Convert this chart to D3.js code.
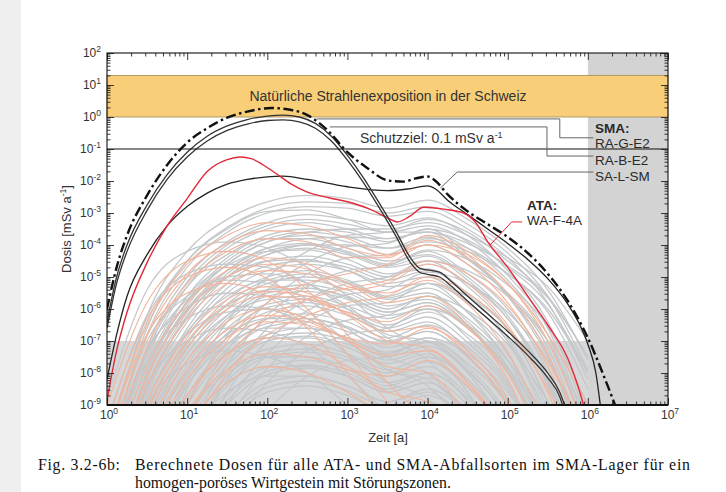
<!DOCTYPE html>
<html>
<head>
<meta charset="utf-8">
<script src="https://cdn.jsdelivr.net/npm/d3@7"></script>
<style>
  body { margin: 0; background: #fff; }
  svg { display: block; }
</style>
</head>
<body>
<svg id="chart" width="726" height="492"></svg>
<script>
// all doses as log10(mSv/a), time as log10(a)
const logGrid = [0, 0.5, 1, 1.5, 2, 2.5, 3, 3.5, 4, 4.5, 5, 5.5, 6];

const greyCurves = [
  [-10.5, -6.2, -4.2, -3.2, -2.65, -2.45, -2.55, -2.85, -2.6, -3.2, -4.1, -5.4, -7.6],
  [-10.8, -6.6, -4.5, -3.45, -2.85, -2.65, -2.7, -3.0, -2.8, -3.35, -4.25, -5.6, -7.9],
  [-11, -6.8, -4.7, -3.6, -3.0, -2.8, -2.85, -3.1, -2.95, -3.5, -4.4, -5.8, -8.2],
  [-11.5, -7.2, -5.0, -3.9, -3.3, -3.05, -3.2, -3.4, -3.15, -3.7, -4.8, -6.4, -9.5],
  [-11.7, -7.4, -5.15, -4.0, -3.4, -3.2, -3.35, -3.6, -3.4, -3.9, -4.95, -6.6, -9.8],
  [-12, -7.6, -5.3, -4.1, -3.5, -3.3, -3.5, -3.8, -3.6, -4.1, -5.1, -6.8, -10],
  [-12, -7.9, -5.6, -4.4, -3.7, -3.5, -3.6, -3.9, -3.5, -4.3, -5.6, -7.4, -11],
  [-12.2, -8.0, -5.75, -4.5, -3.8, -3.6, -3.75, -4.1, -3.75, -4.45, -5.55, -7.2, -10.5],
  [-12.5, -8.2, -5.9, -4.6, -3.9, -3.7, -3.9, -4.3, -4.0, -4.6, -5.5, -7.0, -10],
  [-12.5, -8.4, -6.1, -4.8, -4.1, -3.95, -4.2, -4.6, -4.2, -4.9, -6.0, -8.0, -12],
  [-12.8, -8.55, -6.25, -4.9, -4.2, -4.0, -4.25, -4.65, -4.35, -5.1, -6.3, -8.4, -12],
  [-13, -8.7, -6.4, -5.0, -4.3, -4.1, -4.3, -4.7, -4.5, -5.3, -6.6, -8.9, -12],
  [-13, -9.0, -6.6, -5.2, -4.5, -4.35, -4.6, -5.0, -4.6, -5.2, -6.3, -8.3, -12],
  [-13.2, -9.15, -6.75, -5.35, -4.65, -4.5, -4.7, -5.1, -4.8, -5.5, -6.65, -8.9, -12],
  [-13, -9.3, -6.9, -5.5, -4.8, -4.6, -4.8, -5.2, -5.0, -5.8, -7.0, -9.5, -12],
  [-13, -9.5, -7.1, -5.7, -5.0, -4.8, -5.1, -5.6, -5.2, -5.8, -7.0, -9.3, -12],
  [-13.3, -9.65, -7.25, -5.85, -5.1, -4.9, -5.15, -5.65, -5.35, -6.1, -7.4, -9.9, -12.5],
  [-13.5, -9.8, -7.4, -6.0, -5.2, -5.0, -5.2, -5.7, -5.5, -6.4, -7.8, -10.5, -13],
  [-13.5, -10, -7.6, -6.2, -5.4, -5.25, -5.5, -6.0, -5.6, -6.3, -7.6, -10, -13],
  [-13.8, -10.15, -7.75, -6.3, -5.5, -5.35, -5.6, -6.1, -5.8, -6.6, -7.95, -10.5, -13],
  [-14, -10.3, -7.9, -6.4, -5.6, -5.45, -5.7, -6.2, -6.0, -6.9, -8.3, -11, -13],
  [-14, -10.6, -8.1, -6.6, -5.85, -5.7, -6.0, -6.5, -6.1, -6.8, -8.0, -10.5, -13],
  [-14.2, -10.75, -8.25, -6.75, -5.95, -5.8, -6.1, -6.6, -6.25, -7.05, -8.4, -11, -13.5],
  [-14, -10.9, -8.4, -6.9, -6.1, -5.9, -6.2, -6.7, -6.4, -7.3, -8.8, -11.5, -14],
  [-14.5, -11.2, -8.7, -7.1, -6.3, -6.15, -6.4, -6.9, -6.5, -7.2, -8.5, -11, -14],
  [-14.5, -11.35, -8.85, -7.25, -6.45, -6.3, -6.55, -7.05, -6.7, -7.5, -8.9, -11.5, -14],
  [-14.5, -11.5, -9.0, -7.4, -6.55, -6.4, -6.7, -7.2, -6.9, -7.8, -9.3, -12, -14],
  [-15, -11.8, -9.3, -7.6, -6.8, -6.6, -6.9, -7.4, -7.0, -7.7, -9.0, -11.5, -14],
  [-15, -11.9, -9.45, -7.75, -6.9, -6.75, -7.0, -7.5, -7.15, -7.95, -9.4, -12, -14.5],
  [-15, -12, -9.6, -7.9, -7.0, -6.85, -7.1, -7.6, -7.3, -8.2, -9.8, -12.5, -15],
  [-15, -12.3, -9.9, -8.1, -7.25, -7.1, -7.4, -7.9, -7.5, -8.2, -9.6, -12, -15],
  [-15.3, -12.45, -10.05, -8.25, -7.4, -7.25, -7.5, -8.0, -7.65, -8.45, -9.95, -12.5, -15],
  [-15.5, -12.6, -10.2, -8.4, -7.5, -7.35, -7.6, -8.1, -7.8, -8.7, -10.3, -13, -15],
  [-16, -13, -10.5, -8.7, -7.8, -7.6, -7.9, -8.4, -8.0, -8.8, -10.2, -13, -15],
  [-15.8, -13.15, -10.65, -8.85, -7.95, -7.75, -8.0, -8.5, -8.15, -9.0, -10.5, -13, -15.5],
  [-16, -13.3, -10.8, -9.0, -8.05, -7.85, -8.1, -8.6, -8.3, -9.2, -10.8, -13.5, -16],
  [-16, -13.6, -11.1, -9.3, -8.3, -8.1, -8.4, -8.9, -8.5, -9.3, -11, -14, -16],
  [-16.2, -13.8, -11.25, -9.45, -8.45, -8.25, -8.55, -9.05, -8.7, -9.5, -11.2, -14, -16],
  [-16.5, -14, -11.4, -9.6, -8.6, -8.4, -8.7, -9.2, -8.9, -9.8, -11.5, -14, -16],
  [-8.8, -5.4, -4.2, -3.9, -4.1, -4.7, -5.6, -6.6, -7.3, -8.6, -10.8, -14, -16],
  [-9.6, -6.2, -4.9, -4.6, -4.7, -5.2, -6.0, -6.9, -7.6, -8.9, -11, -14, -16],
  [-10.5, -7.0, -5.6, -5.1, -5.2, -5.7, -6.6, -7.5, -8.0, -9.5, -12, -15, -17],
  [-10.8, -7.3, -5.95, -5.5, -5.6, -6.1, -7.0, -7.9, -8.4, -9.9, -12.5, -15, -17],
  [-11, -7.6, -6.3, -5.9, -6.0, -6.5, -7.4, -8.3, -8.8, -10.5, -13, -16, -18],
  [-11.5, -8.3, -7.0, -6.6, -6.7, -7.2, -8.1, -9.2, -9.8, -11.5, -14, -17, -19],
  [-12, -9, -7.7, -7.3, -7.5, -8.0, -9.0, -10, -11, -12.5, -15, -18, -20],
  [-16, -12, -8.5, -6.4, -5.0, -4.2, -3.7, -3.6, -3.2, -3.6, -4.5, -5.6, -7.5],
  [-16.5, -12.5, -9.0, -6.85, -5.4, -4.55, -4.05, -3.95, -3.5, -3.85, -4.7, -5.85, -8.0],
  [-17, -13, -9.5, -7.3, -5.8, -4.9, -4.4, -4.3, -3.8, -4.1, -4.9, -6.1, -8.5],
  [-17.5, -13.5, -10, -7.75, -6.2, -5.3, -4.8, -4.65, -4.15, -4.45, -5.25, -6.55, -9.0],
  [-18, -14, -10.5, -8.2, -6.6, -5.7, -5.2, -5.0, -4.5, -4.8, -5.6, -7.0, -9.5],
  [-18, -14.5, -11, -8.6, -7.0, -6.05, -5.55, -5.4, -4.85, -5.2, -6.1, -7.6, -10],
  [-18, -15, -11.5, -9.0, -7.4, -6.4, -5.9, -5.8, -5.2, -5.6, -6.6, -8.3, -11],
  [-18.5, -15.5, -12, -9.5, -7.85, -6.85, -6.35, -6.2, -5.6, -6.05, -7.1, -8.9, -11.5],
  [-19, -16, -12.5, -10, -8.3, -7.3, -6.8, -6.6, -6.0, -6.5, -7.6, -9.5, -12],
  [-20, -17, -13.5, -11, -9.2, -8.1, -7.6, -7.5, -6.9, -7.4, -8.6, -10.5, -13],
  [-12, -8, -5.8, -4.6, -3.9, -3.6, -3.5, -3.5, -3.3, -3.7, -4.4, -5.3, -7.0],
  [-12.2, -8.2, -6.0, -4.8, -4.1, -3.8, -3.75, -3.8, -3.6, -3.95, -4.65, -5.65, -7.5],
  [-12.5, -8.5, -6.2, -5.0, -4.3, -4.0, -4.0, -4.1, -3.9, -4.2, -4.9, -6.0, -8.0],
  [-10, -6.4, -4.5, -3.5, -2.95, -2.9, -3.2, -3.6, -3.6, -4.4, -5.6, -7.5, -10.5],
  [-11, -7.3, -5.3, -4.3, -3.8, -3.8, -4.1, -4.5, -4.3, -5.0, -6.2, -8.2, -11],
  [-11.5, -7.7, -5.6, -4.65, -4.2, -4.15, -4.45, -4.9, -4.75, -5.55, -6.9, -9.1, -12],
  [-12, -8.1, -6.0, -5.0, -4.5, -4.45, -4.8, -5.3, -5.2, -6.1, -7.6, -10, -13],
  [-12.5, -8.8, -6.7, -5.6, -5.1, -5.1, -5.4, -5.9, -5.7, -6.5, -7.9, -10.2, -13],
  [-12.8, -9.2, -7.05, -5.9, -5.4, -5.35, -5.65, -6.1, -5.8, -6.55, -7.85, -10, -13],
  [-13, -9.6, -7.4, -6.2, -5.7, -5.6, -5.9, -6.3, -5.9, -6.6, -7.8, -9.8, -13],
  [-14, -10.3, -8.0, -6.8, -6.3, -6.3, -6.6, -7.0, -6.7, -7.5, -9.0, -11.5, -14],
  [-14.2, -10.65, -8.35, -7.1, -6.6, -6.6, -6.9, -7.35, -7.05, -7.9, -9.45, -12, -14.5],
  [-14.5, -11, -8.7, -7.4, -6.9, -6.9, -7.2, -7.7, -7.4, -8.3, -9.9, -12.5, -15],
  [-15, -11.6, -9.3, -8.0, -7.5, -7.5, -7.8, -8.3, -8.0, -8.8, -10.4, -13, -15],
  [-15.5, -12.05, -9.65, -8.3, -7.8, -7.8, -8.1, -8.6, -8.3, -9.2, -10.9, -13.5, -15.5],
  [-16, -12.5, -10, -8.6, -8.1, -8.1, -8.4, -8.9, -8.6, -9.6, -11.5, -14, -16],
  [-11, -7.4, -5.7, -5.0, -4.9, -5.2, -5.9, -6.8, -7.0, -8.0, -9.8, -12.5, -15],
  [-12, -8.5, -6.8, -6.1, -6.0, -6.3, -7.0, -7.9, -8.2, -9.3, -11, -14, -16]
];

const salmonCurves = [
  [-10, -6.5, -4.6, -3.7, -3.3, -3.4, -3.8, -4.3, -4.0, -4.6, -5.8, -7.8, -11],
  [-10.5, -6.85, -4.9, -3.95, -3.55, -3.65, -4.1, -4.35, -3.85, -4.4, -5.5, -7.4, -10.5],
  [-11, -7.2, -5.2, -4.2, -3.8, -3.9, -4.4, -4.4, -3.7, -4.2, -5.2, -7.0, -10],
  [-11.5, -7.8, -5.8, -4.8, -4.4, -4.6, -5.2, -5.8, -5.6, -6.5, -8.2, -11, -14],
  [-11.8, -8.1, -6.05, -5.0, -4.6, -4.75, -5.3, -5.5, -5.1, -5.85, -7.35, -9.8, -13],
  [-12, -8.4, -6.3, -5.2, -4.8, -4.9, -5.4, -5.2, -4.6, -5.2, -6.5, -8.6, -12],
  [-12.5, -8.9, -6.8, -5.7, -5.3, -5.5, -6.2, -7.0, -7.2, -8.3, -10, -13, -15],
  [-12.8, -9.15, -7.0, -5.85, -5.45, -5.6, -6.15, -6.7, -6.55, -7.45, -9.0, -11.7, -14.5],
  [-13, -9.4, -7.2, -6.0, -5.6, -5.7, -6.1, -6.4, -5.9, -6.6, -8.0, -10.5, -14],
  [-13, -9.8, -7.6, -6.4, -6.0, -6.3, -7.0, -7.8, -8.0, -9.3, -11, -14, -16],
  [-13.5, -10.15, -7.9, -6.65, -6.2, -6.4, -6.95, -7.45, -7.3, -8.3, -9.9, -12.7, -15],
  [-14, -10.5, -8.2, -6.9, -6.4, -6.5, -6.9, -7.1, -6.6, -7.3, -8.8, -11.5, -14],
  [-14.5, -11, -8.7, -7.4, -6.9, -7.1, -7.8, -8.6, -8.9, -10, -12, -15, -17],
  [-15, -11.5, -9.2, -7.9, -7.4, -7.5, -7.9, -8.1, -7.6, -8.4, -10, -13, -15],
  [-15.5, -12, -9.7, -8.3, -7.8, -8.0, -8.6, -9.3, -9.5, -10.5, -12.5, -15, -17],
  [-9, -5.8, -4.5, -4.2, -4.5, -5.4, -6.8, -8.3, -9.5, -11, -13, -16, -18],
  [-9.5, -6.3, -5.0, -4.7, -5.05, -6.0, -7.4, -8.9, -10.2, -11.8, -14, -16.5, -18.5],
  [-10, -6.8, -5.5, -5.2, -5.6, -6.6, -8.0, -9.5, -11, -12.5, -15, -17, -19],
  [-16, -12, -9, -7, -5.8, -5.2, -4.9, -4.6, -4.0, -4.3, -5.2, -6.8, -9],
  [-16.5, -12.5, -9.5, -7.5, -6.3, -5.7, -5.35, -5.1, -4.5, -4.9, -5.9, -7.65, -10],
  [-17, -13, -10, -8, -6.8, -6.2, -5.8, -5.6, -5.0, -5.5, -6.6, -8.5, -11]
];

// [log t, log dose]
const curveDashDot = [[0,-6.0],[0.12,-4.7],[0.25,-3.7],[0.5,-2.45],[0.75,-1.5],[1.0,-0.8],[1.25,-0.35],[1.5,-0.02],[1.75,0.17],[2.05,0.28],[2.3,0.22],[2.5,0.06],[2.75,-0.41],[3.0,-1.1],[3.25,-1.6],[3.5,-1.98],[3.7,-2.02],[3.85,-1.92],[4.0,-1.86],[4.1,-2.0],[4.25,-2.42],[4.5,-2.95],[4.75,-3.35],[5.0,-3.75],[5.25,-4.25],[5.5,-4.9],[5.75,-5.75],[6.0,-6.9],[6.2,-8.1],[6.4,-9.4]];
const curveRAG = [[0,-6.4],[0.12,-5.0],[0.25,-4.0],[0.5,-2.75],[0.75,-1.8],[1.0,-1.1],[1.25,-0.6],[1.5,-0.28],[1.75,-0.08],[2.0,0.03],[2.2,0.06],[2.4,0.0],[2.6,-0.2],[2.8,-0.6],[3.0,-1.2],[3.2,-1.9],[3.4,-2.7],[3.6,-3.55],[3.8,-4.45],[3.9,-4.72],[4.0,-4.78],[4.15,-4.85],[4.3,-5.15],[4.5,-5.6],[4.75,-6.15],[5.0,-6.7],[5.25,-7.3],[5.5,-8.0],[5.65,-8.6],[5.75,-9.3]];
const curveRAB = [[0,-6.6],[0.12,-5.2],[0.25,-4.2],[0.5,-2.92],[0.75,-1.95],[1.0,-1.25],[1.25,-0.75],[1.5,-0.42],[1.75,-0.22],[2.0,-0.11],[2.2,-0.09],[2.4,-0.15],[2.6,-0.35],[2.8,-0.75],[3.0,-1.35],[3.2,-2.05],[3.4,-2.85],[3.6,-3.7],[3.8,-4.6],[3.9,-4.85],[4.0,-4.92],[4.15,-5.0],[4.3,-5.3],[4.5,-5.75],[4.75,-6.3],[5.0,-6.85],[5.25,-7.45],[5.5,-8.15],[5.65,-8.75],[5.72,-9.3]];
const curveSAL = [[0,-8.2],[0.12,-6.8],[0.25,-5.6],[0.5,-4.3],[0.75,-3.4],[1.0,-2.8],[1.25,-2.38],[1.5,-2.1],[1.75,-1.95],[2.0,-1.87],[2.2,-1.85],[2.5,-1.95],[3.0,-2.18],[3.5,-2.3],[3.75,-2.25],[4.0,-2.15],[4.1,-2.25],[4.25,-2.6],[4.5,-3.05],[4.75,-3.5],[5.0,-3.95],[5.25,-4.45],[5.5,-5.05],[5.75,-5.85],[5.9,-6.5],[6.0,-7.1],[6.1,-8.0],[6.17,-9.3]];
const curveWAF = [[0,-8.85],[0.12,-7.3],[0.25,-6.1],[0.5,-4.55],[0.75,-3.4],[1.0,-2.55],[1.25,-1.7],[1.5,-1.33],[1.66,-1.25],[1.8,-1.3],[1.95,-1.5],[2.1,-1.75],[2.3,-2.1],[2.5,-2.35],[2.78,-2.53],[3.0,-2.65],[3.25,-2.85],[3.5,-3.15],[3.62,-3.28],[3.78,-3.1],[3.95,-2.82],[4.2,-2.88],[4.45,-3.0],[4.6,-3.3],[4.75,-3.9],[5.0,-4.7],[5.25,-5.6],[5.5,-6.5],[5.75,-7.55],[5.9,-8.6],[5.98,-9.3]];

const xTickExp = [0, 1, 2, 3, 4, 5, 6, 7];
const yTickExp = [-9, -8, -7, -6, -5, -4, -3, -2, -1, 0, 1, 2];
const bandRange = [1, 20];
const protectionGoal = 0.1;
const irrelevantBelow = 1e-7;
const greyFrom = 1e6;

const svg = d3.select("#chart");
const mL = 107, mR = 668, mT = 53, mB = 405;
const x = d3.scaleLog().domain([1, 1e7]).range([mL, mR]);
const y = d3.scaleLog().domain([1e-9, 1e2]).range([mB, mT]);
const P = (lt, ld) => [x(10 ** lt), y(10 ** ld)];
const sans = "'Liberation Sans', Arial, sans-serif";

svg.append("rect").attr("x", 0).attr("y", 0).attr("width", 21).attr("height", 492).attr("fill", "#efefef");

svg.append("defs").append("clipPath").attr("id", "plotclip")
  .append("rect").attr("x", mL).attr("y", mT).attr("width", mR - mL).attr("height", mB - mT);

// shaded zones
svg.append("rect")
  .attr("x", x(1)).attr("y", y(irrelevantBelow))
  .attr("width", x(greyFrom) - x(1)).attr("height", y(1e-9) - y(irrelevantBelow))
  .attr("fill", "#d6d7d8");
svg.append("rect")
  .attr("x", x(greyFrom)).attr("y", mT)
  .attr("width", mR - x(greyFrom)).attr("height", mB - mT)
  .attr("fill", "#d3d3d3");

// natural radiation band
svg.append("rect")
  .attr("x", mL).attr("y", y(bandRange[1]))
  .attr("width", mR - mL).attr("height", y(bandRange[0]) - y(bandRange[1]))
  .attr("fill", "#f8cf78").attr("stroke", "#a08a55").attr("stroke-width", 0.8);
svg.append("text")
  .attr("x", 388).attr("y", (y(bandRange[0]) + y(bandRange[1])) / 2 + 5)
  .attr("text-anchor", "middle").attr("font-family", sans).attr("font-size", 14)
  .attr("fill", "#333").text("Natürliche Strahlenexposition in der Schweiz");

const gridLine = d3.line()
  .x((d, i) => x(10 ** logGrid[i]))
  .y(d => y(10 ** d))
  .curve(d3.curveMonotoneX);
const pairLine = d3.line()
  .x(d => x(10 ** d[0]))
  .y(d => y(10 ** d[1]))
  .curve(d3.curveMonotoneX);

const curves = svg.append("g").attr("clip-path", "url(#plotclip)");

curves.selectAll(".grey").data(greyCurves).enter().append("path")
  .attr("class", "grey")
  .attr("d", gridLine)
  .attr("fill", "none").attr("stroke", "#c5c8ca").attr("stroke-width", 1.3);

curves.selectAll(".salmon").data(salmonCurves).enter().append("path")
  .attr("class", "salmon")
  .attr("d", gridLine)
  .attr("fill", "none").attr("stroke", "#f2b49c").attr("stroke-width", 1.1);

const makePath = (data, color, width, dash) => {
  curves.append("path")
    .datum(data)
    .attr("d", pairLine)
    .attr("fill", "none")
    .attr("stroke", color)
    .attr("stroke-width", width)
    .attr("stroke-dasharray", dash || null);
};
makePath(curveSAL, "#222", 1.3);
makePath(curveWAF, "#e2293a", 1.4);
makePath(curveRAB, "#333", 1.3);
makePath(curveRAG, "#333", 1.3);
makePath(curveDashDot, "#111", 2.4, "10,3.5,2.5,3.5");

// protection goal
svg.append("line")
  .attr("x1", mL).attr("x2", mR)
  .attr("y1", y(protectionGoal)).attr("y2", y(protectionGoal))
  .attr("stroke", "#111").attr("stroke-width", 1.1);
const goal = svg.append("text")
  .attr("x", 360).attr("y", y(protectionGoal) - 6)
  .attr("font-family", sans).attr("font-size", 14).attr("fill", "#333");
goal.append("tspan").text("Schutzziel: 0.1 mSv a");
goal.append("tspan").attr("dy", -5).attr("font-size", 9).text("-1");

// leader lines
const leader = (pts, color) => {
  svg.append("path")
    .attr("d", d3.line()(pts.map(p => P(p[0], p[1]))))
    .attr("fill", "none").attr("stroke", color).attr("stroke-width", 1);
};
leader([[2.62, -0.06], [5.65, -0.06], [5.65, -0.65], [6.07, -0.65]], "#666");
leader([[2.78, -0.31], [5.49, -0.31], [5.49, -1.22], [6.07, -1.22]], "#666");
leader([[4.16, -2.22], [4.37, -1.72], [6.07, -1.72]], "#666");
leader([[4.78, -4.0], [5.05, -3.28], [5.18, -3.28]], "#e2293a");

const label = (lt, ld, txt, bold) => {
  const [px, py] = P(lt, ld);
  svg.append("text").attr("x", px).attr("y", py)
    .attr("font-family", sans).attr("font-size", 13.5)
    .attr("font-weight", bold ? "bold" : "normal")
    .attr("fill", "#2a2a2a").text(txt);
};
label(6.09, -0.5, "SMA:", true);
label(6.09, -0.97, "RA-G-E2");
label(6.09, -1.5, "RA-B-E2");
label(6.09, -2.0, "SA-L-SM");
label(5.24, -2.9, "ATA:", true);
label(5.24, -3.37, "WA-F-4A");

// axes: ticks inward on all four sides
const minorX = [], minorY = [];
xTickExp.slice(0, -1).forEach(e => { for (let m = 2; m < 10; m++) minorX.push(m * 10 ** e); });
yTickExp.slice(0, -1).forEach(e => { for (let m = 2; m < 10; m++) minorY.push(m * 10 ** e); });
const majorX = xTickExp.map(e => 10 ** e);
const majorY = yTickExp.map(e => 10 ** e);

const addAxis = (axis, transform) => {
  svg.append("g").attr("transform", transform).call(axis)
    .call(g => g.select(".domain").remove())
    .call(g => g.selectAll("line").attr("stroke", "#222").attr("stroke-width", 0.9));
};
[[minorX, 3.5], [majorX, 7]].forEach(([vals, len]) => {
  addAxis(d3.axisBottom(x).tickValues(vals).tickSize(-len).tickFormat(""), `translate(0,${mB})`);
  addAxis(d3.axisTop(x).tickValues(vals).tickSize(-len).tickFormat(""), `translate(0,${mT})`);
});
[[minorY, 3.5], [majorY, 7]].forEach(([vals, len]) => {
  addAxis(d3.axisLeft(y).tickValues(vals).tickSize(-len).tickFormat(""), `translate(${mL},0)`);
  addAxis(d3.axisRight(y).tickValues(vals).tickSize(-len).tickFormat(""), `translate(${mR},0)`);
});

svg.append("rect")
  .attr("x", mL).attr("y", mT).attr("width", mR - mL).attr("height", mB - mT)
  .attr("fill", "none").attr("stroke", "#111").attr("stroke-width", 1.1);
svg.append("line").attr("x1", mL).attr("x2", mR).attr("y1", mB).attr("y2", mB)
  .attr("stroke", "#111").attr("stroke-width", 1.8);

const powLabel = (t, e) => {
  t.append("tspan").text("10");
  t.append("tspan").attr("dy", -5).attr("font-size", 8.5).text(e);
};
xTickExp.forEach(e => {
  const t = svg.append("text").attr("x", x(10 ** e) + 2).attr("y", 419)
    .attr("text-anchor", "middle").attr("font-family", sans).attr("font-size", 12).attr("fill", "#333");
  powLabel(t, e);
});
yTickExp.forEach(e => {
  const t = svg.append("text").attr("x", 101).attr("y", y(10 ** e) + 4)
    .attr("text-anchor", "end").attr("font-family", sans).attr("font-size", 12).attr("fill", "#333");
  powLabel(t, e);
});

svg.append("text").attr("x", 388).attr("y", 442)
  .attr("text-anchor", "middle").attr("font-family", sans).attr("font-size", 13).attr("fill", "#333")
  .text("Zeit [a]");
const yTitle = svg.append("text")
  .attr("transform", `translate(71,${(mT + mB) / 2}) rotate(-90)`)
  .attr("text-anchor", "middle").attr("font-family", sans).attr("font-size", 13).attr("fill", "#333");
yTitle.append("tspan").text("Dosis [mSv a");
yTitle.append("tspan").attr("dy", -5).attr("font-size", 8.5).text("-1");
yTitle.append("tspan").attr("dy", 5).text("]");

// caption
const serif = "'Liberation Serif', 'Times New Roman', serif";
svg.append("text").attr("x", 38).attr("y", 470)
  .attr("font-family", serif).attr("font-size", 15.8).attr("fill", "#111")
  .attr("textLength", 82).attr("lengthAdjust", "spacing")
  .text("Fig. 3.2-6b:");
svg.append("text").attr("x", 135).attr("y", 470)
  .attr("font-family", serif).attr("font-size", 15.8).attr("fill", "#111")
  .attr("textLength", 555).attr("lengthAdjust", "spacing")
  .text("Berechnete Dosen für alle ATA- und SMA-Abfallsorten im SMA-Lager für ein");
svg.append("text").attr("x", 135).attr("y", 488)
  .attr("font-family", serif).attr("font-size", 15.8).attr("fill", "#111")
  .text("homogen-poröses Wirtgestein mit Störungszonen.");
</script>
</body>
</html>
